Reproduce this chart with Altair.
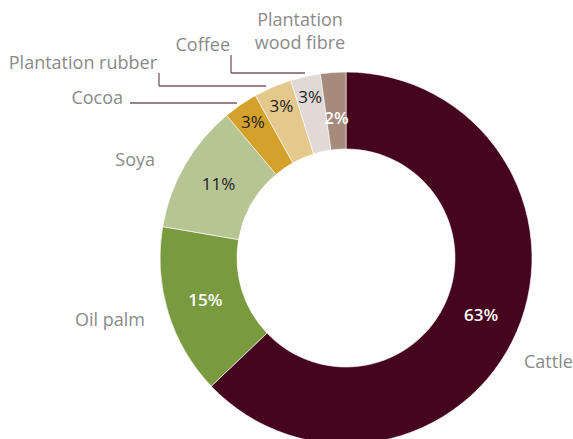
import altair as alt
import pandas as pd

# ---- data ----
categories = ["Cattle", "Oil palm", "Soya", "Cocoa", "Plantation rubber", "Coffee", "Plantation wood fibre"]
shares = [62.9, 14.8, 11.2, 3.0, 3.3, 2.6, 2.2]
pct_labels = ["63%", "15%", "11%", "3%", "3%", "3%", "2%"]
colors = ["#46051f", "#7a9a40", "#b7c595", "#d4a12b", "#e5c88c", "#e0d9d5", "#a68a7b"]

df = pd.DataFrame({
    "category": categories,
    "share": shares,
    "label": pct_labels,
    "idx": list(range(len(categories))),
})

CX, CY = 346, 258
FONT = "Open Sans"
GREY = "#8a8a8a"
LEADER = "#7a5864"

color_scale = alt.Scale(domain=categories, range=colors)
theta = alt.Theta("share:Q", stack=True)
order = alt.Order("idx:Q")

base = alt.Chart(df)

arcs = base.mark_arc(innerRadius=109, outerRadius=186, stroke="white", strokeWidth=0.6).encode(
    theta=theta,
    order=order,
    color=alt.Color("category:N", scale=color_scale, legend=None),
    x=alt.value(CX),
    y=alt.value(CY),
)

# percentage label groups: (categories, radius, colour, weight)
pct_groups = [
    (["Cattle", "Oil palm"], 147, "white", 600),
    (["Plantation wood fibre"], 139, "white", 600),
    (["Soya"], 147, "#1e1e1e", "normal"),
    (["Cocoa", "Plantation rubber", "Coffee"], 164, "#1e1e1e", "normal"),
]

pct_layers = []
for cats, r, col, w in pct_groups:
    pct_layers.append(
        base.mark_text(radius=r, fontSize=17, font=FONT, fontWeight=w, color=col,
                       align="center", baseline="middle")
        .encode(theta=theta, order=order, text="label:N",
                x=alt.value(CX), y=alt.value(CY),
                opacity=alt.condition(alt.FieldOneOfPredicate(field="category", oneOf=cats),
                                      alt.value(1), alt.value(0)))
    )

# category labels (annotations)
cat_annot = pd.DataFrame({
    "text": ["Cattle", "Oil palm", "Soya", "Cocoa", "Plantation rubber", "Coffee", "Plantation\nwood fibre"],
    "px": [524, 145, 155, 123, 157, 230, 300],
    "py": [368, 326, 166, 104, 69, 51, 26],
    "al": ["left", "right", "right", "right", "right", "right", "center"],
})

cat_layers = []
for al in ["left", "right", "center"]:
    cat_layers.append(
        alt.Chart(cat_annot).transform_filter(alt.datum.al == al)
        .mark_text(fontSize=18, font=FONT, color=GREY, align=al, baseline="alphabetic",
                   lineBreak="\n", lineHeight=23)
        .encode(x=alt.X("px:Q", scale=None), y=alt.Y("py:Q", scale=None), text="text:N")
    )

# leader lines
leaders = pd.DataFrame({
    "x1": [130, 159, 159, 231, 231],
    "y1": [103, 73, 86, 55, 73],
    "x2": [237, 159, 266, 231, 305],
    "y2": [103, 86, 86, 73, 73],
})
leader_layer = alt.Chart(leaders).mark_rule(color=LEADER, strokeWidth=1.3).encode(
    x=alt.X("x1:Q", scale=None), y=alt.Y("y1:Q", scale=None),
    x2="x2:Q", y2="y2:Q",
)

chart = alt.layer(arcs, *pct_layers, *cat_layers, leader_layer).properties(
    width=573, height=439,
    autosize=alt.AutoSizeParams(type="none"),
    padding=0,
).configure_view(stroke=None)

chart.save("out.html", embed_options={"renderer": "svg", "actions": False})
